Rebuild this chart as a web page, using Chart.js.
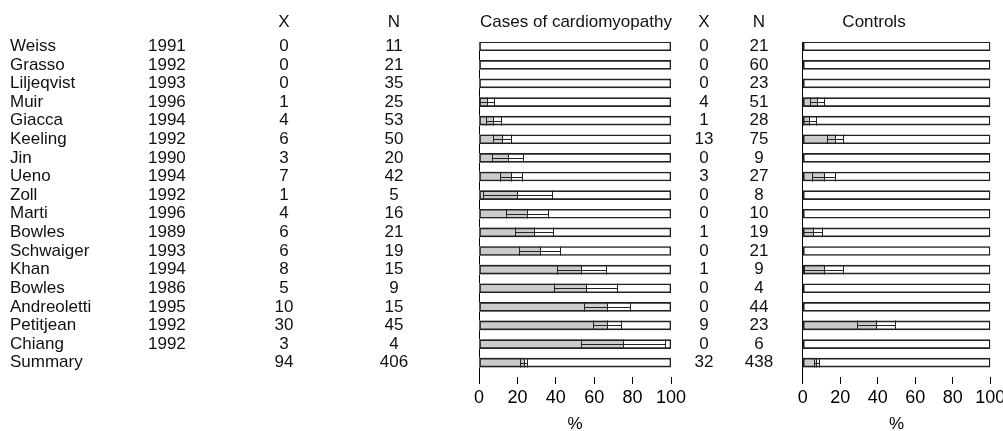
<!DOCTYPE html>
<html>
<head>
<meta charset="utf-8">
<script src="https://cdn.jsdelivr.net/npm/chart.js@4.4.1/dist/chart.umd.min.js"></script>
<style>
  html, body { margin: 0; padding: 0; background: #fff; overflow: hidden; }
  #wrap { position: relative; width: 1003px; height: 431px; overflow: hidden; }
  canvas { position: absolute; top: 0; }
</style>
</head>
<body>
<div id="wrap">
  <canvas id="cases" width="690" height="444" style="left:0"></canvas>
  <canvas id="controls" width="330" height="444" style="left:690px"></canvas>
</div>
<script>
// rows, top to bottom
const studies = ["Weiss", "Grasso", "Liljeqvist", "Muir", "Giacca", "Keeling", "Jin", "Ueno", "Zoll",
  "Marti", "Bowles", "Schwaiger", "Khan", "Bowles", "Andreoletti", "Petitjean", "Chiang", "Summary"];
const years = ["1991", "1992", "1993", "1996", "1994", "1992", "1990", "1994", "1992",
  "1996", "1989", "1993", "1994", "1986", "1995", "1992", "1992", ""];

// cases of cardiomyopathy
const caseX = [0, 0, 0, 1, 4, 6, 3, 7, 1, 4, 6, 6, 8, 5, 10, 30, 3, 94];
const caseN = [11, 21, 35, 25, 53, 50, 20, 42, 5, 16, 21, 19, 15, 9, 15, 45, 4, 406];
const casePct = [null, null, null, 4.0, 7.5, 12.0, 15.0, 16.7, 20.0, 25.0, 28.6, 31.6, 53.3, 55.6, 66.7, 66.7, 75.0, 23.2];
const caseLow = [null, null, null, 0.1, 3.9, 7.4, 7.0, 10.9, 2.1, 14.2, 18.7, 20.9, 40.5, 39.0, 54.5, 59.6, 53.3, 21.1];
const caseHigh = [null, null, null, 7.9, 11.2, 16.6, 23.0, 22.4, 37.9, 35.8, 38.4, 42.2, 66.2, 72.1, 78.8, 73.7, 96.7, 25.2];

// controls
const ctrlX = [0, 0, 0, 4, 1, 13, 0, 3, 0, 0, 1, 0, 1, 0, 0, 9, 0, 32];
const ctrlN = [21, 60, 23, 51, 28, 75, 9, 27, 8, 10, 19, 21, 9, 4, 44, 23, 6, 438];
const ctrlPct = [null, null, null, 7.8, 3.6, 17.3, null, 11.1, null, null, 5.3, null, 11.1, null, null, 39.1, null, 7.3];
const ctrlLow = [null, null, null, 4.1, 0.1, 13.0, null, 5.1, null, null, 0.1, null, 0.6, null, null, 29.0, null, 6.1];
const ctrlHigh = [null, null, null, 11.6, 7.1, 21.7, null, 17.2, null, null, 10.4, null, 21.6, null, null, 49.3, null, 8.5];

const xTicks = [0, 20, 40, 60, 80, 100];

const FONT = "'Liberation Sans', Arial, Helvetica, sans-serif";
Chart.defaults.font.family = FONT;
Chart.defaults.color = "#000";

// ci bars: ticks at low, estimate, high joined by a line
const ciPlugin = {
  id: "ci",
  afterDatasetsDraw(chart, args, opts) {
    const ctx = chart.ctx, xs = chart.scales.x, ys = chart.scales.y;
    ctx.save();
    ctx.strokeStyle = "#222";
    ctx.lineWidth = 1;
    opts.low.forEach((lo, i) => {
      if (lo == null) return;
      const yc = Math.round(ys.getPixelForValue(i));
      const h = 4.5;
      const px = [lo, opts.pct[i], opts.high[i]].map(v => Math.round(xs.getPixelForValue(v)) + 0.5);
      ctx.beginPath();
      px.forEach(p => { ctx.moveTo(p, yc - h); ctx.lineTo(p, yc + h); });
      ctx.moveTo(px[0], yc + 0.5);
      ctx.lineTo(px[2], yc + 0.5);
      ctx.stroke();
    });
    ctx.restore();
  }
};

// the table text next to each panel
const tablePlugin = {
  id: "table",
  afterDraw(chart, args, opts) {
    const ctx = chart.ctx, ys = chart.scales.y;
    ctx.save();
    ctx.fillStyle = "#111";
    ctx.font = "17px " + FONT;
    ctx.textBaseline = "middle";
    opts.cols.forEach(col => {
      ctx.textAlign = col.align;
      if (col.head) ctx.fillText(col.head, col.x, 22);
      col.values.forEach((v, i) => ctx.fillText(String(v), col.x, ys.getPixelForValue(i)));
    });
    ctx.textAlign = "center";
    ctx.fillText(opts.title, opts.titleX, 22);
    ctx.restore();
  }
};

function makePanel(id, pct, low, high, padding, table) {
  const rows = studies.map((s, i) => i);
  new Chart(document.getElementById(id), {
    type: "bar",
    data: {
      datasets: [
        {
          data: rows.map(i => ({ y: i, x: [0, 100] })),
          backgroundColor: "#fff",
          borderWidth: 0,
          order: 3
        },
        {
          data: rows.filter(i => pct[i] != null).map(i => ({ y: i, x: [0, pct[i]] })),
          backgroundColor: "#cbcbcb",
          borderWidth: 0,
          order: 2
        },
        {
          data: rows.map(i => ({ y: i, x: [0, 100] })),
          backgroundColor: "rgba(0,0,0,0)",
          borderColor: "#222",
          borderWidth: 1,
          borderSkipped: false,
          order: 1
        }
      ]
    },
    options: {
      indexAxis: "y",
      responsive: false,
      animation: false,
      events: [],
      grouped: false,
      barThickness: 9,
      layout: { padding: padding },
      plugins: {
        legend: { display: false },
        tooltip: { enabled: false },
        ci: { low: low, pct: pct, high: high },
        table: table
      },
      scales: {
        x: {
          type: "linear",
          min: 0,
          max: 100,
          afterBuildTicks: s => { s.ticks = xTicks.map(v => ({ value: v })); },
          ticks: { font: { size: 18 }, color: "#000", padding: 3 },
          grid: { drawOnChartArea: false, drawTicks: true, tickLength: 7, color: "#000" },
          border: { display: false },
          title: { display: true, text: "%", font: { size: 17 }, color: "#000", padding: { top: 3, bottom: 0 } }
        },
        y: {
          type: "linear",
          reverse: true,
          offset: false,
          min: -0.226,
          max: 17.77,
          ticks: { display: false },
          grid: { display: false, drawTicks: false, offset: false },
          border: { display: true, color: "#000", width: 1 }
        }
      }
    },
    plugins: [ciPlugin, tablePlugin]
  });
}

makePanel("cases", casePct, caseLow, caseHigh,
  { left: 479, right: 19, top: 42, bottom: 9 },
  {
    title: "Cases of cardiomyopathy",
    titleX: 576,
    cols: [
      { x: 10, align: "left", values: studies },
      { x: 148, align: "left", values: years },
      { x: 284, align: "center", head: "X", values: caseX },
      { x: 394, align: "center", head: "N", values: caseN }
    ]
  });

makePanel("controls", ctrlPct, ctrlLow, ctrlHigh,
  { left: 112.7, right: 29.7, top: 42, bottom: 9 },
  {
    title: "Controls",
    titleX: 184,
    cols: [
      { x: 14, align: "center", head: "X", values: ctrlX },
      { x: 69, align: "center", head: "N", values: ctrlN }
    ]
  });
</script>
</body>
</html>
